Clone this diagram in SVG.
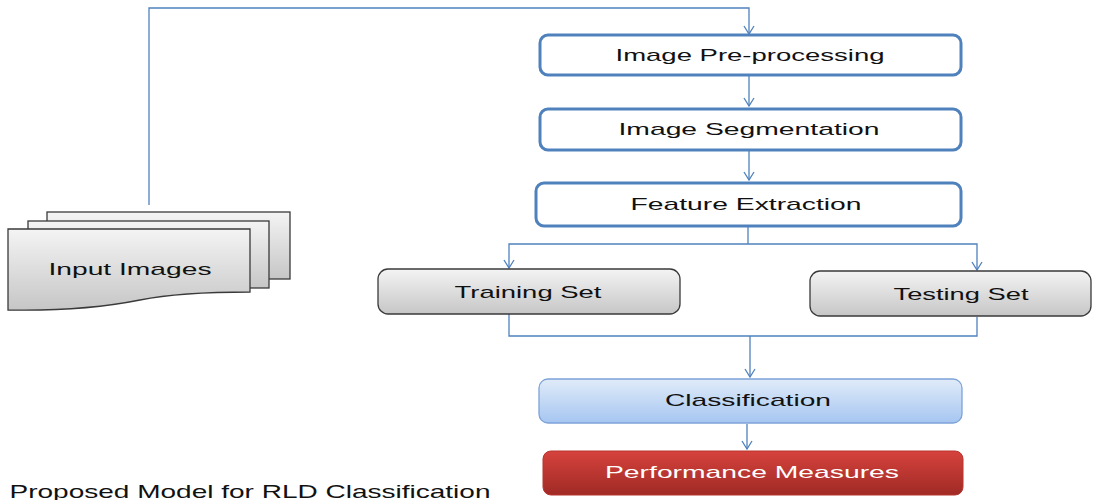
<svg xmlns="http://www.w3.org/2000/svg" width="1102" height="500" viewBox="0 0 1102 500">
  <style>
    .lbl { font-family: "Liberation Sans", Arial, sans-serif; font-size: 17px; fill: #111111; text-anchor: middle; }
    .step rect { fill: #ffffff; stroke: #4f81bd; stroke-width: 3; }
    .set rect { fill: url(#grayGrad); stroke: #3a3a3a; stroke-width: 1.3; }
    .sheet { fill: url(#grayGrad); stroke: #3a3a3a; stroke-width: 1.3; }
    .wire { fill: none; stroke: #4f81bd; stroke-width: 1.3; }
    .arr { marker-end: url(#vhead); }
  </style>
  <defs>
    <linearGradient id="grayGrad" x1="0" y1="0" x2="0" y2="1">
      <stop offset="0" stop-color="#f4f4f4"/>
      <stop offset="1" stop-color="#c6c6c6"/>
    </linearGradient>
    <linearGradient id="blueGrad" x1="0" y1="0" x2="0" y2="1">
      <stop offset="0" stop-color="#e0ebf9"/>
      <stop offset="1" stop-color="#a6c6f1"/>
    </linearGradient>
    <linearGradient id="redGrad" x1="0" y1="0" x2="0" y2="1">
      <stop offset="0" stop-color="#d6423d"/>
      <stop offset="1" stop-color="#a02a25"/>
    </linearGradient>
    <!-- open V arrowhead, drawn along +x so orient="auto" follows the line -->
    <marker id="vhead" viewBox="0 0 10 12" refX="9" refY="6" markerWidth="10" markerHeight="12" markerUnits="userSpaceOnUse" orient="auto">
      <path d="M1,1 L9,6 L1,11" fill="none" stroke="#4f81bd" stroke-width="1.3"/>
    </marker>
  </defs>

  <!-- connectors -->
  <g id="connectors">
    <path class="wire arr" d="M149,205 V8 H749 V34"/>
    <line class="wire arr" x1="749" y1="76" x2="749" y2="106"/>
    <line class="wire arr" x1="749" y1="151" x2="749" y2="180"/>
    <line class="wire" x1="748" y1="227" x2="748" y2="244"/>
    <path class="wire arr" d="M748,244 H509 V268"/>
    <path class="wire arr" d="M748,244 H977 V270"/>
    <path class="wire" d="M509,314 V336 H977 V317"/>
    <line class="wire arr" x1="750" y1="336" x2="750" y2="377"/>
    <line class="wire arr" x1="747" y1="424" x2="747" y2="449"/>
  </g>

  <!-- stacked documents -->
  <g id="input-images">
    <rect class="sheet" x="47" y="212" width="243" height="67"/>
    <rect class="sheet" x="28" y="221" width="241" height="67"/>
    <path class="sheet" d="M8,229 H250 V292 C200,292 170,294 140,300 C100,308 60,311 8,310 Z"/>
    <text class="lbl" x="130" y="275" textLength="163" lengthAdjust="spacingAndGlyphs">Input Images</text>
  </g>

  <g id="preprocessing" class="step">
    <rect x="540" y="35" width="421" height="40" rx="8"/>
    <text class="lbl" x="750" y="61" textLength="269" lengthAdjust="spacingAndGlyphs">Image Pre-processing</text>
  </g>

  <g id="segmentation" class="step">
    <rect x="540" y="109" width="421" height="41" rx="8"/>
    <text class="lbl" x="749" y="135" textLength="261" lengthAdjust="spacingAndGlyphs">Image Segmentation</text>
  </g>

  <g id="feature-extraction" class="step">
    <rect x="536" y="183" width="425" height="43" rx="8"/>
    <text class="lbl" x="746" y="210" textLength="231" lengthAdjust="spacingAndGlyphs">Feature Extraction</text>
  </g>

  <g id="training-set" class="set">
    <rect x="378" y="269" width="302" height="45" rx="10"/>
    <text class="lbl" x="528" y="298" textLength="147" lengthAdjust="spacingAndGlyphs">Training Set</text>
  </g>

  <g id="testing-set" class="set">
    <rect x="810" y="271" width="281" height="45" rx="10"/>
    <text class="lbl" x="961" y="300" textLength="135" lengthAdjust="spacingAndGlyphs">Testing Set</text>
  </g>

  <g id="classification">
    <rect x="539" y="379" width="423" height="44" rx="9" fill="url(#blueGrad)" stroke="#7ea3d9" stroke-width="1.3"/>
    <text class="lbl" x="748" y="406" textLength="166" lengthAdjust="spacingAndGlyphs">Classification</text>
  </g>

  <g id="performance">
    <rect x="543" y="451" width="420" height="44" rx="8" fill="url(#redGrad)" stroke="#b8342f" stroke-width="1"/>
    <text class="lbl" x="752" y="478" style="fill:#ffffff" textLength="294" lengthAdjust="spacingAndGlyphs">Performance Measures</text>
  </g>

  <text id="caption" class="lbl" x="250" y="498" style="font-size:19px" textLength="481" lengthAdjust="spacingAndGlyphs">Proposed Model for RLD Classification</text>
</svg>
